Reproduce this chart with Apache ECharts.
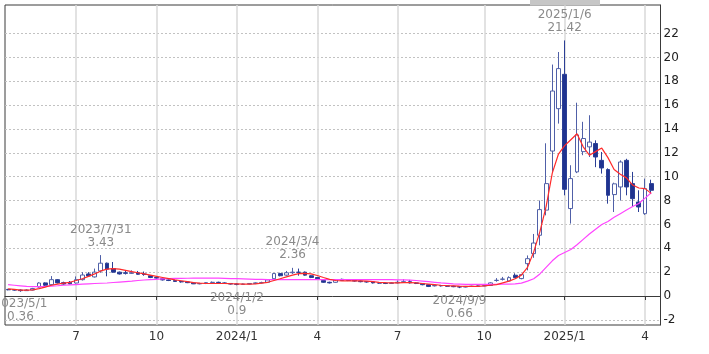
<!DOCTYPE html>
<html><head><meta charset="utf-8">
<script src="https://cdn.jsdelivr.net/npm/echarts@6/dist/echarts.min.js"></script>
<style>html,body{margin:0;padding:0;background:#fff}#c{width:709px;height:354px}</style>
</head><body><div id="c"></div>
<script>
// weekly categories
const categories = [
'2023/4/17','2023/4/24','2023/5/1','2023/5/8','2023/5/15','2023/5/22','2023/5/29','2023/6/5','2023/6/12','2023/6/19','2023/6/26',
'2023/7/3','2023/7/10','2023/7/17','2023/7/24','2023/7/31','2023/8/7','2023/8/14','2023/8/21','2023/8/28','2023/9/4','2023/9/11','2023/9/18','2023/9/25',
'2023/10/2','2023/10/9','2023/10/16','2023/10/23','2023/10/30','2023/11/6','2023/11/13','2023/11/20','2023/11/27','2023/12/4','2023/12/11','2023/12/18','2023/12/25',
'2024/1/2','2024/1/8','2024/1/15','2024/1/22','2024/1/29','2024/2/5','2024/2/12','2024/2/19','2024/2/26','2024/3/4','2024/3/11','2024/3/18','2024/3/25',
'2024/4/1','2024/4/8','2024/4/15','2024/4/22','2024/4/29','2024/5/6','2024/5/13','2024/5/20','2024/5/27','2024/6/3','2024/6/10','2024/6/17','2024/6/24',
'2024/7/1','2024/7/8','2024/7/15','2024/7/22','2024/7/29','2024/8/5','2024/8/12','2024/8/19','2024/8/26','2024/9/2','2024/9/9','2024/9/16','2024/9/23','2024/9/30',
'2024/10/7','2024/10/14','2024/10/21','2024/10/28','2024/11/4','2024/11/11','2024/11/18','2024/11/25','2024/12/2','2024/12/9','2024/12/16','2024/12/23','2024/12/30',
'2025/1/6','2025/1/13','2025/1/20','2025/1/27','2025/2/3','2025/2/10','2025/2/17','2025/2/24','2025/3/3','2025/3/10','2025/3/17','2025/3/24','2025/3/31',
'2025/4/7','2025/4/14'
];
const openV = [.55,.52,.5,.45,.5,.75,1.1,.95,1.37,1.12,1.15,1.09,1.37,1.85,1.6,2.1,2.75,2.3,2.0,1.95,1.9,1.95,1.85,1.7,1.55,1.45,1.35,1.3,1.22,1.18,1.1,1.02,1.05,1.12,1.15,1.1,1.05,
1.0,.98,1.0,1.05,1.1,1.15,1.45,1.88,1.75,1.95,2.0,2.0,1.7,1.55,1.3,1.15,1.15,1.4,1.38,1.3,1.25,1.2,1.18,1.1,1.08,1.05,1.1,1.15,1.2,1.1,1.05,.95,.85,.88,.85,.82,.78,.75,.8,.82,.85,.88,
1.3,1.4,1.26,1.74,1.46,2.71,3.55,5.09,7.2,12.15,15.7,18.58,7.33,10.4,12.1,12.5,12.78,11.37,10.6,8.5,9.14,11.37,9.42,7.88,6.9,9.42];
const closeV = [.52,.5,.45,.5,.62,1.09,.9,1.37,1.1,1.0,1.02,1.37,1.76,1.68,2.0,2.75,2.25,2.0,1.85,1.9,1.95,1.82,1.8,1.55,1.5,1.35,1.3,1.22,1.18,1.12,1.02,1.05,1.12,1.15,1.12,1.05,1.0,
.98,1.0,1.05,1.1,1.12,1.35,1.88,1.7,1.95,2.0,1.98,1.75,1.55,1.45,1.15,1.1,1.35,1.3,1.3,1.25,1.2,1.18,1.1,1.08,1.05,1.1,1.15,1.2,1.1,1.05,.95,.8,.88,.85,.82,.78,.75,.8,.82,.85,.87,1.1,
1.32,1.42,1.54,1.54,1.79,3.13,4.44,7.24,9.42,17.18,19.06,8.94,9.84,13.5,13.2,12.9,11.65,10.73,8.44,9.4,11.23,9.14,8.16,7.46,9.0,8.86];
const lowV = [.48,.45,.36,.42,.47,.7,.85,.9,1.05,.95,.98,1.05,1.3,1.6,1.55,1.95,1.65,1.95,1.8,1.8,1.85,1.78,1.7,1.5,1.45,1.3,1.25,1.18,1.12,1.08,1.0,.98,1.0,1.08,1.08,1.02,.96,
.9,.95,.97,1.0,1.05,1.12,1.42,1.65,1.7,1.85,1.7,1.7,1.5,1.4,1.1,1.05,1.12,1.28,1.25,1.2,1.15,1.12,1.05,1.03,1.0,1.02,1.05,1.1,1.05,1.0,.9,.75,.8,.8,.78,.74,.66,.72,.76,.8,.82,.85,
1.2,1.3,1.2,1.5,1.4,2.15,3.2,4.25,6.76,10.4,14.45,8.44,6.07,10.3,11.8,11.65,10.8,10.26,7.74,7.04,8.0,8.44,7.46,7.04,6.8,8.6];
const highV = [.6,.58,.55,.56,.68,1.15,1.15,1.67,1.42,1.2,1.25,1.64,2.0,2.0,2.3,3.43,2.8,2.85,2.05,2.1,2.15,2.1,2.05,1.75,1.6,1.5,1.4,1.35,1.25,1.2,1.12,1.1,1.15,1.22,1.2,1.15,1.08,
1.05,1.04,1.08,1.14,1.2,1.4,1.9,1.95,2.1,2.36,2.3,2.05,1.75,1.6,1.35,1.2,1.4,1.45,1.42,1.35,1.3,1.25,1.22,1.15,1.12,1.15,1.3,1.4,1.35,1.15,1.08,.98,.92,.92,.9,.86,.82,.84,.86,.9,.92,1.15,
1.5,1.6,1.65,1.9,1.85,3.4,5.2,8.0,12.8,19.4,20.45,21.42,10.96,16.2,14.6,15.15,13.05,12.07,10.7,9.5,11.37,11.5,10.4,8.86,9.84,9.75];
// moving averages
const maShort = [.6,.55,.5,.5,.52,.62,.75,.9,1.0,1.08,1.15,1.3,1.45,1.65,1.85,2.1,2.25,2.3,2.25,2.15,2.05,1.95,1.85,1.75,1.65,1.55,1.45,1.35,1.28,1.2,1.12,1.08,1.05,1.05,1.05,1.05,1.03,
1.02,1.0,1.0,1.02,1.08,1.15,1.3,1.45,1.6,1.75,1.87,1.9,1.85,1.72,1.55,1.4,1.3,1.27,1.27,1.27,1.26,1.24,1.2,1.15,1.12,1.1,1.1,1.12,1.12,1.1,1.05,1.0,.95,.9,.87,.85,.82,.8,.8,.81,.85,.9,
.95,1.1,1.25,1.45,1.75,2.4,3.7,5.4,7.5,10.3,11.9,12.6,13.1,13.6,12.5,11.8,12.1,12.4,11.6,10.6,10.2,9.9,9.3,9.05,9.0,8.6];
const maLong = [.95,.9,.85,.8,.78,.78,.8,.83,.86,.9,.93,.96,.99,1.02,1.05,1.07,1.09,1.13,1.17,1.21,1.25,1.3,1.34,1.37,1.4,1.43,1.45,1.47,1.48,1.49,1.5,1.5,1.5,1.5,1.5,1.48,1.46,
1.45,1.44,1.42,1.4,1.39,1.38,1.38,1.38,1.38,1.38,1.38,1.38,1.38,1.38,1.37,1.37,1.37,1.37,1.37,1.37,1.37,1.37,1.37,1.37,1.37,1.37,1.36,1.35,1.33,1.3,1.25,1.2,1.15,1.1,1.06,1.02,1.0,.98,.97,.97,.97,.97,
.98,.99,1.0,1.02,1.08,1.25,1.45,1.85,2.4,2.95,3.4,3.65,3.9,4.3,4.75,5.2,5.6,6.0,6.25,6.6,6.9,7.2,7.5,7.75,8.2,8.65];
const yTicks = [-2,0,2,4,6,8,10,12,14,16,18,20,22];
const annotDates = ['2023/5/1','2023/7/31','2024/1/2','2024/3/4','2024/9/9','2025/1/6'];
const annotValues = [0.36,3.43,0.9,2.36,0.66,21.42];
const annotPos = ['bottom','top','bottom','top','bottom','top'];

const cats = categories.concat(['']);
const months = [1,4,7,10];
function isQuarterStart(i){
  if(i<=0 || i>=categories.length) return false;
  const m = +categories[i].split('/')[1], pm = +categories[i-1].split('/')[1];
  return m!==pm && months.indexOf(m)>=0;
}
const FONT = 'DejaVu Sans';
const candleData = openV.map((o,i)=>[o, closeV[i], lowV[i], highV[i]]);
// split line colors: ticks are -2.43(boundary), -2..22, 24, 24.39(boundary)
const hColors = ['rgba(0,0,0,0)'].concat(yTicks.map(()=> '#c2c2c2')).concat(['rgba(0,0,0,0)','rgba(0,0,0,0)']);

const chart = echarts.init(document.getElementById('c'), null, {renderer:'canvas'});
chart.setOption({
  animation:false,
  backgroundColor:'#fff',
  grid:{left:5,right:48.5,top:5,bottom:29,show:true,borderColor:'#3a3a3a',borderWidth:1,backgroundColor:'#fff'},
  xAxis:{
    type:'category', data:cats, boundaryGap:true,
    axisLine:{show:true,lineStyle:{color:'#3a3a3a'}},
    axisTick:{show:true,alignWithLabel:true,length:4,interval:(i)=>isQuarterStart(i),lineStyle:{color:'#3a3a3a'}},
    axisLabel:{interval:(i)=>isQuarterStart(i),margin:6,color:'#333',fontFamily:FONT,fontSize:12,
      formatter:(v)=>{const p=v.split('/'); return p[1]==='1' ? p[0]+'/1' : p[1];}},
    splitLine:{show:true,alignWithLabel:true,interval:(i)=>isQuarterStart(i),lineStyle:{color:'#d8d8d8',width:1.5}}
  },
  yAxis:{
    type:'value', position:'right', min:-2.43, max:24.39, splitNumber:13,
    axisLine:{show:true,lineStyle:{color:'#3a3a3a'}},
    axisTick:{show:false},
    axisLabel:{margin:3,color:'#222',fontFamily:FONT,fontSize:12,showMinLabel:false,showMaxLabel:false,
      formatter:(v)=> yTicks.indexOf(Math.round(v*100)/100)>=0 ? String(Math.round(v)) : ''},
    splitLine:{show:true,lineStyle:{color:hColors,type:[2,2],width:1}}
  },
  series:[
    {type:'candlestick', data:candleData, barWidth:'70%', z:3,
     itemStyle:{color:'#ffffff',borderColor:'#5060a8',color0:'#1f3390',borderColor0:'#2b3f96',borderWidth:1},
     markPoint:{symbol:'circle',symbolSize:0,silent:true,animation:false,
       data: annotDates.map((d,i)=>({coord:[d,annotValues[i]], value:annotValues[i],
         label:{show:true,position:annotPos[i],distance:6,formatter:d+'\n'+annotValues[i],
           color:'#8a8a8a',fontFamily:FONT,fontSize:12,lineHeight:13,align:'center'}}))}
    },
    {type:'line', data:maLong, symbol:'none', z:4, lineStyle:{color:'#ff44ff',width:1.2}},
    {type:'line', data:maShort, symbol:'none', z:5, lineStyle:{color:'#ff2a2a',width:1.2}}
  ],
  graphic:[{type:'rect',z:100,shape:{x:530,y:0,width:70,height:5.5},style:{fill:'#c6c6c6'}}]
});
</script></body></html>
